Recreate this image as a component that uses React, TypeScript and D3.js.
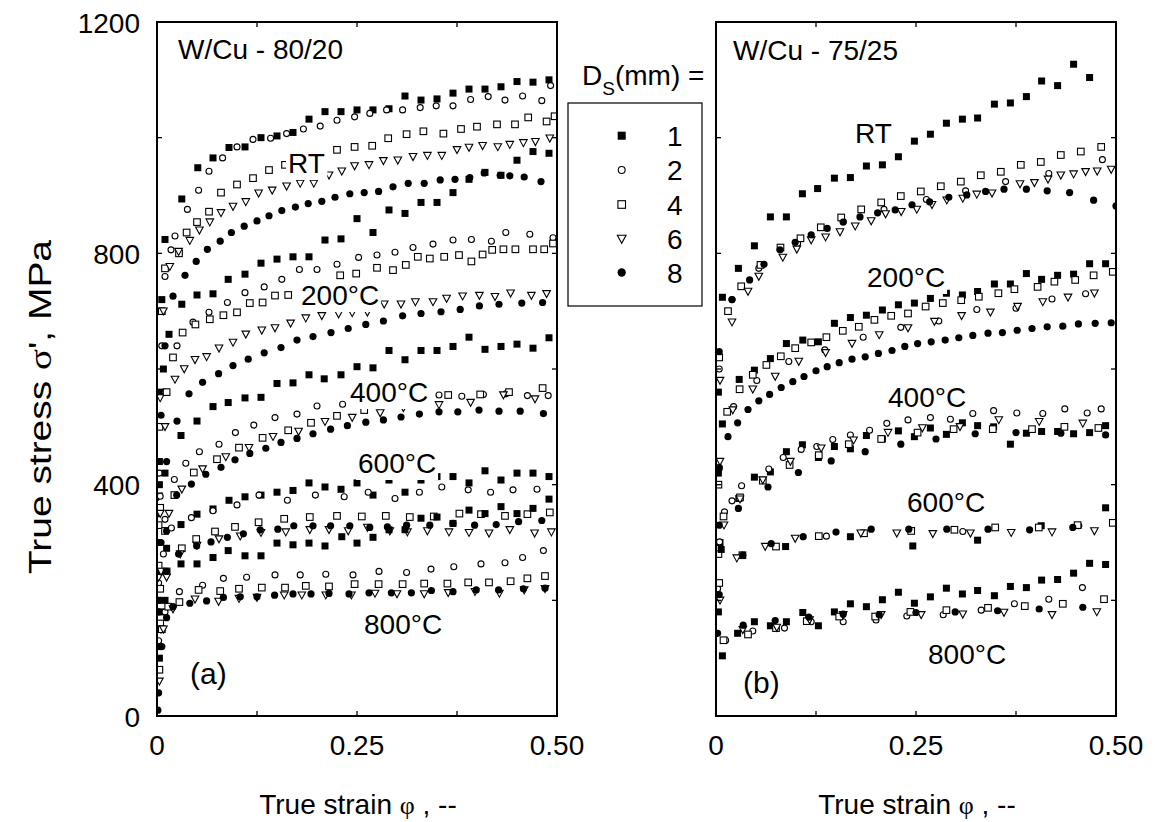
import React from 'react';
import * as d3 from 'd3';

type Pt = [number, number];

// ---------- Panel (a) W/Cu 80/20 ----------
const A_RT_1: Pt[] = [[0.001,120],[0.002,300],[0.003,440],[0.004,560],[0.006,720],[0.01,824],[0.031,894],[0.051,948],[0.07,965],[0.09,983],[0.11,984],[0.13,1000],[0.15,1003],[0.17,1009],[0.19,1032],[0.21,1045],[0.23,1045],[0.25,1048],[0.27,1048],[0.29,1050],[0.31,1072],[0.33,1065],[0.35,1067],[0.37,1077],[0.39,1084],[0.41,1084],[0.43,1088],[0.45,1097],[0.47,1096],[0.49,1100]];
const A_RT_2: Pt[] = [[0.002,250],[0.003,420],[0.006,640],[0.01,760],[0.0175,806],[0.0225,830],[0.038,876],[0.052,909],[0.065,942],[0.082,965],[0.1,984],[0.12,997],[0.142,999],[0.162,1007],[0.183,1015],[0.204,1020],[0.225,1030],[0.247,1036],[0.266,1042],[0.287,1048],[0.307,1048],[0.329,1052],[0.349,1055],[0.37,1055],[0.392,1066],[0.414,1071],[0.435,1065],[0.457,1072],[0.481,1064],[0.492,1090]];
const A_RT_4: Pt[] = [[0.002,330],[0.003,500],[0.006,700],[0.01,774],[0.0275,800],[0.037,836],[0.05,854],[0.065,872],[0.08,905],[0.1,919],[0.12,930],[0.14,944],[0.16,953],[0.225,979],[0.247,984],[0.269,986],[0.289,999],[0.312,1006],[0.333,1011],[0.358,1007],[0.38,1015],[0.4,1019],[0.425,1023],[0.4475,1023],[0.464,1035],[0.487,1028],[0.497,1037]];
const A_RT_6: Pt[] = [[0.002,380],[0.004,550],[0.008,700],[0.016,777],[0.027,803],[0.041,822],[0.053,840],[0.066,854],[0.08,870],[0.095,881],[0.111,889],[0.127,904],[0.144,909],[0.162,916],[0.179,921],[0.196,921],[0.215,935],[0.231,942],[0.247,951],[0.265,953],[0.283,960],[0.301,961],[0.32,967],[0.338,969],[0.356,969],[0.375,979],[0.39,983],[0.407,986],[0.426,984],[0.441,988],[0.458,991],[0.473,993],[0.491,999]];
const A_RT_8: Pt[] = [[0.002,350],[0.005,520],[0.01,640],[0.02,726],[0.035,762],[0.049,786],[0.063,807],[0.079,821],[0.093,836],[0.109,847],[0.125,856],[0.14,865],[0.156,874],[0.173,880],[0.189,886],[0.206,890],[0.2225,897],[0.241,903],[0.259,905],[0.277,907],[0.295,915],[0.314,921],[0.334,921],[0.354,927],[0.3725,928],[0.391,931],[0.409,939],[0.429,935],[0.441,934],[0.459,932],[0.48,924]];

const A_200_1: Pt[] = [[0.001,200],[0.003,400],[0.008,600],[0.015,660],[0.031,712],[0.05,728],[0.07,730],[0.089,755],[0.11,764],[0.13,783],[0.15,790],[0.17,794],[0.19,794],[0.21,823],[0.23,825],[0.25,860],[0.27,836],[0.29,875],[0.31,869],[0.33,888],[0.35,888],[0.37,905],[0.39,928],[0.41,940],[0.43,935],[0.45,961],[0.47,976],[0.49,973]];
const A_200_2: Pt[] = [[0.002,230],[0.004,380],[0.01,560],[0.025,640],[0.045,681],[0.065,698],[0.088,715],[0.11,732],[0.134,742],[0.156,755],[0.178,772],[0.2,772],[0.225,781],[0.252,793],[0.275,797],[0.2975,802],[0.32,810],[0.345,816],[0.37,823],[0.393,824],[0.418,821],[0.436,836],[0.466,833],[0.495,827]];
const A_200_4: Pt[] = [[0.002,260],[0.004,360],[0.012,560],[0.02,620],[0.032,663],[0.048,677],[0.066,686],[0.083,693],[0.1,698],[0.116,714],[0.132,715],[0.1475,727],[0.164,728],[0.229,762],[0.249,765],[0.275,775],[0.295,771],[0.311,780],[0.326,794],[0.341,791],[0.359,794],[0.3775,797],[0.393,786],[0.407,798],[0.419,806],[0.433,807],[0.448,807],[0.47,807],[0.484,807],[0.495,817]];
const A_200_6: Pt[] = [[0.002,240],[0.004,350],[0.01,500],[0.0225,582],[0.034,600],[0.0475,616],[0.062,621],[0.0775,636],[0.095,646],[0.111,660],[0.131,667],[0.1475,671],[0.167,679],[0.186,688],[0.206,692],[0.227,695],[0.244,697],[0.263,698],[0.284,712],[0.305,712],[0.323,716],[0.345,716],[0.362,722],[0.382,726],[0.403,727],[0.4225,725],[0.442,731],[0.468,727],[0.487,730]];
const A_200_8: Pt[] = [[0.002,180],[0.005,300],[0.012,440],[0.025,510],[0.04,557],[0.057,577],[0.077,592],[0.095,606],[0.114,617],[0.134,628],[0.155,637],[0.175,650],[0.195,656],[0.2175,663],[0.239,670],[0.261,677],[0.283,683],[0.307,692],[0.33,696],[0.355,699],[0.379,703],[0.403,709],[0.4275,712],[0.456,714],[0.482,715]];

const A_400_1: Pt[] = [[0.002,150],[0.004,250],[0.01,420],[0.03,485],[0.05,510],[0.07,535],[0.089,542],[0.11,550],[0.13,551],[0.15,575],[0.17,576],[0.19,590],[0.209,583],[0.23,590],[0.25,604],[0.27,602],[0.29,632],[0.31,616],[0.33,632],[0.35,632],[0.37,639],[0.39,655],[0.41,634],[0.43,639],[0.45,643],[0.47,636],[0.49,654]];
const A_400_2: Pt[] = [[0.002,130],[0.004,220],[0.01,340],[0.0217,409],[0.036,437],[0.053,457],[0.0775,470],[0.098,490],[0.121,503],[0.1475,516],[0.175,522],[0.2,536],[0.232,539],[0.3525,555],[0.381,553],[0.408,556],[0.436,557],[0.463,554],[0.489,554]];
const A_400_4: Pt[] = [[0.004,220],[0.01,320],[0.0217,382],[0.046,421],[0.075,444],[0.1025,464],[0.132,481],[0.164,494],[0.1925,507],[0.225,519],[0.259,529],[0.364,555],[0.404,556],[0.44,560],[0.482,567]];
const A_400_6: Pt[] = [[0.005,250],[0.015,350],[0.031,392],[0.057,427],[0.086,448],[0.115,464],[0.145,483],[0.177,492],[0.21,509],[0.244,516],[0.279,524],[0.308,533],[0.3525,538],[0.392,542],[0.433,555],[0.4725,548]];
const A_400_8: Pt[] = [[0.004,200],[0.012,320],[0.0246,382],[0.043,401],[0.061,418],[0.08,430],[0.0975,443],[0.116,454],[0.136,463],[0.155,473],[0.175,480],[0.195,488],[0.217,496],[0.238,502],[0.261,508],[0.283,512],[0.305,517],[0.328,522],[0.3525,526],[0.376,526],[0.4025,529],[0.4275,527],[0.454,527],[0.483,523]];

const A_600_1: Pt[] = [[0.004,180],[0.012,290],[0.03,331],[0.05,349],[0.07,358],[0.09,373],[0.11,379],[0.13,382],[0.15,387],[0.17,390],[0.19,403],[0.21,396],[0.23,392],[0.25,403],[0.27,382],[0.29,408],[0.31,387],[0.33,408],[0.35,414],[0.37,414],[0.39,403],[0.41,424],[0.43,408],[0.45,420],[0.47,420],[0.49,414]];
const A_600_2: Pt[] = [[0.004,160],[0.008,280],[0.018,325],[0.043,343],[0.07,355],[0.1,365],[0.1275,382],[0.163,373],[0.198,382],[0.234,379],[0.264,387],[0.2975,376],[0.328,387],[0.356,396],[0.389,391],[0.417,387],[0.445,391],[0.475,392]];
const A_600_4: Pt[] = [[0.004,160],[0.012,250],[0.031,290],[0.049,306],[0.0725,319],[0.0975,327],[0.127,335],[0.159,341],[0.191,344],[0.225,346],[0.256,345],[0.286,346],[0.316,344],[0.346,345],[0.378,350],[0.405,349],[0.435,346],[0.463,349],[0.491,352]];
const A_600_6: Pt[] = [[0.005,150],[0.012,240],[0.029,280],[0.05,295],[0.0775,306],[0.104,311],[0.13,317],[0.161,318],[0.191,322],[0.215,322],[0.239,320],[0.263,326],[0.291,320],[0.313,318],[0.338,320],[0.365,318],[0.39,317],[0.415,316],[0.441,322],[0.472,316],[0.493,318]];
const A_600_8: Pt[] = [[0.004,150],[0.012,250],[0.027,280],[0.0496,294],[0.0675,301],[0.088,309],[0.108,315],[0.129,322],[0.151,323],[0.171,329],[0.195,329],[0.217,329],[0.241,329],[0.266,326],[0.288,327],[0.312,330],[0.341,330],[0.37,333],[0.397,330],[0.424,331],[0.452,336],[0.481,338]];

const A_800_1: Pt[] = [[0.003,100],[0.01,200],[0.03,263],[0.05,263],[0.07,274],[0.089,286],[0.11,277],[0.13,277],[0.15,299],[0.17,296],[0.19,299],[0.21,294],[0.231,310],[0.25,299],[0.27,309],[0.29,322],[0.31,322],[0.33,342],[0.35,344],[0.37,333],[0.39,356],[0.41,350],[0.43,362],[0.45,350],[0.47,359],[0.49,375]];
const A_800_2: Pt[] = [[0.003,80],[0.01,180],[0.028,215],[0.057,226],[0.083,238],[0.112,240],[0.1475,244],[0.179,244],[0.211,245],[0.245,244],[0.2775,250],[0.312,248],[0.3425,254],[0.371,258],[0.405,263],[0.435,265],[0.457,274],[0.483,286]];
const A_800_4: Pt[] = [[0.003,80],[0.006,150],[0.014,189],[0.028,197],[0.052,218],[0.079,216],[0.1025,220],[0.131,222],[0.16,222],[0.186,225],[0.215,224],[0.247,228],[0.277,228],[0.307,228],[0.334,229],[0.363,229],[0.389,231],[0.415,231],[0.442,233],[0.463,238],[0.485,242]];
const A_800_6: Pt[] = [[0.003,60],[0.008,150],[0.02,185],[0.0475,202],[0.077,198],[0.1025,203],[0.125,205],[0.159,209],[0.181,209],[0.211,209],[0.243,209],[0.2725,212],[0.3,211],[0.334,211],[0.364,213],[0.3975,215],[0.428,212],[0.459,218],[0.485,220]];
const A_800_8: Pt[] = [[0.001,10],[0.002,40],[0.006,120],[0.012,170],[0.02,189],[0.041,195],[0.062,199],[0.083,205],[0.104,206],[0.125,206],[0.147,209],[0.17,211],[0.1925,211],[0.215,212],[0.24,211],[0.265,213],[0.293,213],[0.318,213],[0.343,217],[0.37,215],[0.399,218],[0.427,218],[0.458,220],[0.485,221]];

// ---------- Panel (b) W/Cu 75/25 ----------
const B_RT_1: Pt[] = [[0.003,560],[0.008,724],[0.028,774],[0.048,813],[0.068,863],[0.088,863],[0.108,903],[0.127,912],[0.148,930],[0.168,931],[0.188,951],[0.208,953],[0.228,967],[0.248,994],[0.268,1006],[0.288,1025],[0.308,1032],[0.327,1034],[0.348,1058],[0.368,1060],[0.388,1071],[0.407,1098],[0.427,1090],[0.447,1127],[0.467,1104]];
const B_RT_2: Pt[] = [[0.004,600],[0.02,720],[0.0535,774],[0.102,817],[0.159,855],[0.21,876],[0.263,893],[0.312,908],[0.362,924],[0.416,938],[0.483,962]];
const B_RT_4: Pt[] = [[0.004,620],[0.015,700],[0.0315,743],[0.0556,780],[0.0806,810],[0.1056,826],[0.131,845],[0.1565,862],[0.1815,876],[0.2065,888],[0.231,899],[0.256,907],[0.281,916],[0.306,924],[0.331,935],[0.356,941],[0.381,953],[0.406,958],[0.431,970],[0.456,976],[0.4815,984]];
const B_RT_6: Pt[] = [[0.005,580],[0.02,681],[0.04,734],[0.0535,760],[0.0835,793],[0.101,807],[0.119,823],[0.137,828],[0.155,837],[0.174,847],[0.194,856],[0.212,868],[0.2315,872],[0.251,876],[0.27,884],[0.2885,892],[0.3085,895],[0.326,902],[0.345,904],[0.38,920],[0.398,922],[0.415,928],[0.431,935],[0.447,937],[0.462,941],[0.4765,942],[0.494,945]];
const B_RT_8: Pt[] = [[0.004,630],[0.02,720],[0.042,754],[0.06,781],[0.08,806],[0.099,819],[0.119,832],[0.139,843],[0.159,854],[0.18,863],[0.202,870],[0.224,875],[0.245,884],[0.267,889],[0.291,897],[0.3135,901],[0.337,907],[0.36,911],[0.388,911],[0.414,908],[0.442,905],[0.472,892],[0.5,882]];

const B_200_1: Pt[] = [[0.003,420],[0.008,505],[0.029,582],[0.048,598],[0.068,618],[0.088,644],[0.1085,650],[0.128,647],[0.148,679],[0.168,689],[0.188,693],[0.208,702],[0.228,711],[0.248,714],[0.268,722],[0.288,731],[0.308,728],[0.327,734],[0.348,747],[0.368,747],[0.388,765],[0.407,755],[0.427,762],[0.447,764],[0.467,782],[0.487,782]];
const B_200_2: Pt[] = [[0.004,430],[0.022,535],[0.051,580],[0.091,613],[0.136,633],[0.184,655],[0.231,672],[0.2785,683],[0.326,703],[0.375,705],[0.42,721],[0.462,730]];
const B_200_4: Pt[] = [[0.003,400],[0.014,526],[0.0295,565],[0.046,590],[0.063,607],[0.081,622],[0.099,636],[0.119,646],[0.138,655],[0.1585,666],[0.1785,673],[0.198,685],[0.219,692],[0.24,696],[0.262,708],[0.2835,714],[0.3065,719],[0.3285,725],[0.353,731],[0.373,738],[0.402,742],[0.423,751],[0.449,754],[0.472,762],[0.496,768]];
const B_200_6: Pt[] = [[0.005,440],[0.021,529],[0.046,565],[0.074,587],[0.1035,613],[0.137,628],[0.17,644],[0.204,659],[0.24,671],[0.273,682],[0.307,692],[0.343,698],[0.377,708],[0.4085,716],[0.44,724],[0.473,731]];
const B_200_8: Pt[] = [[0.004,428],[0.015,483],[0.027,507],[0.04,530],[0.0535,545],[0.067,556],[0.0815,568],[0.096,578],[0.11,587],[0.125,597],[0.139,604],[0.154,611],[0.17,617],[0.1865,621],[0.203,627],[0.22,632],[0.236,639],[0.252,644],[0.269,647],[0.2865,650],[0.3035,654],[0.321,658],[0.34,662],[0.358,663],[0.3765,667],[0.395,670],[0.414,673],[0.4335,674],[0.453,678],[0.474,679],[0.494,680]];

const B_400_1: Pt[] = [[0.005,300],[0.0285,376],[0.048,413],[0.068,422],[0.088,457],[0.108,469],[0.128,447],[0.148,466],[0.168,462],[0.188,485],[0.208,479],[0.228,493],[0.248,483],[0.268,498],[0.288,487],[0.308,507],[0.327,502],[0.347,500],[0.368,470],[0.388,489],[0.407,492],[0.427,492],[0.447,488],[0.467,490],[0.487,502]];
const B_400_2: Pt[] = [[0.004,300],[0.0106,353],[0.02,372],[0.032,398],[0.066,427],[0.084,447],[0.1065,461],[0.126,466],[0.146,478],[0.168,486],[0.192,494],[0.2135,506],[0.24,512],[0.268,516],[0.293,513],[0.321,523],[0.347,528],[0.376,524],[0.4085,523],[0.436,531],[0.464,524],[0.4815,531]];
const B_400_4: Pt[] = [[0.003,280],[0.0094,345],[0.03,378],[0.0585,407],[0.092,434],[0.1285,451],[0.166,470],[0.2065,479],[0.252,490],[0.297,496],[0.346,496],[0.395,496],[0.4355,500],[0.478,498]];
const B_400_6: Pt[] = [[0.01,330],[0.03,375],[0.0585,408],[0.093,440],[0.1315,463],[0.172,477],[0.215,490],[0.258,498],[0.305,500],[0.3535,512],[0.404,509],[0.4585,506]];
const B_400_8: Pt[] = [[0.004,330],[0.028,359],[0.065,396],[0.103,421],[0.144,441],[0.1865,457],[0.231,470],[0.275,479],[0.324,488],[0.375,490],[0.431,489],[0.487,486]];

const B_600_1: Pt[] = [[0.003,180],[0.0065,288],[0.087,293],[0.168,310],[0.246,294],[0.327,304],[0.4065,329],[0.487,360]];
const B_600_2: Pt[] = [[0.002,220],[0.0044,301],[0.138,311],[0.3085,319],[0.4535,329]];
const B_600_4: Pt[] = [[0.004,230],[0.033,278],[0.075,293],[0.1285,311],[0.185,316],[0.244,320],[0.298,322],[0.349,326],[0.4035,326],[0.452,330],[0.496,334]];
const B_600_6: Pt[] = [[0.005,200],[0.026,273],[0.0615,293],[0.099,307],[0.181,316],[0.226,316],[0.271,315],[0.318,316],[0.369,317],[0.42,318],[0.473,320]];
const B_600_8: Pt[] = [[0.004,210],[0.0335,278],[0.069,298],[0.109,310],[0.15,318],[0.194,323],[0.241,323],[0.2885,323],[0.34,323],[0.392,322],[0.446,326]];

const B_800_1: Pt[] = [[0.008,104],[0.027,143],[0.048,163],[0.068,156],[0.088,163],[0.1085,179],[0.128,156],[0.148,180],[0.168,194],[0.188,189],[0.208,201],[0.228,214],[0.248,195],[0.268,206],[0.288,221],[0.308,211],[0.327,217],[0.348,208],[0.368,224],[0.388,222],[0.407,235],[0.427,236],[0.447,247],[0.467,264],[0.487,262]];
const B_800_2: Pt[] = [[0.012,131],[0.046,147],[0.0856,152],[0.119,163],[0.159,163],[0.2,166],[0.2385,173],[0.284,175],[0.3315,183],[0.373,194],[0.416,202],[0.458,222]];
const B_800_4: Pt[] = [[0.0094,131],[0.04,141],[0.075,152],[0.1135,164],[0.154,172],[0.199,172],[0.243,180],[0.288,183],[0.34,187],[0.386,190],[0.4335,194],[0.485,202]];
const B_800_6: Pt[] = [[0.0335,149],[0.076,153],[0.117,166],[0.159,175],[0.2065,175],[0.2565,175],[0.3085,176],[0.36,179],[0.42,175],[0.476,180]];
const B_800_8: Pt[] = [[0.002,143],[0.034,157],[0.074,165],[0.116,171],[0.159,176],[0.204,175],[0.25,179],[0.299,180],[0.352,182],[0.404,185],[0.4585,188]];

// ---------- categories / ticks ----------
const SIZES = ['1', '2', '4', '6', '8'];
const TEMPS = ['RT', '200°C', '400°C', '600°C', '800°C'];
const X_TICKS = [0, 0.125, 0.25, 0.375, 0.5];
const X_LABELS: [number, string][] = [[0, '0'], [0.25, '0.25'], [0.5, '0.50']];
const Y_TICKS = [0, 200, 400, 600, 800, 1000, 1200];
const Y_LABELS = [0, 400, 800, 1200];

const PANEL_A = [
  [A_RT_1, A_RT_2, A_RT_4, A_RT_6, A_RT_8],
  [A_200_1, A_200_2, A_200_4, A_200_6, A_200_8],
  [A_400_1, A_400_2, A_400_4, A_400_6, A_400_8],
  [A_600_1, A_600_2, A_600_4, A_600_6, A_600_8],
  [A_800_1, A_800_2, A_800_4, A_800_6, A_800_8],
];
const PANEL_B = [
  [B_RT_1, B_RT_2, B_RT_4, B_RT_6, B_RT_8],
  [B_200_1, B_200_2, B_200_4, B_200_6, B_200_8],
  [B_400_1, B_400_2, B_400_4, B_400_6, B_400_8],
  [B_600_1, B_600_2, B_600_4, B_600_6, B_600_8],
  [B_800_1, B_800_2, B_800_4, B_800_6, B_800_8],
];

const FONT = '"Liberation Sans", Arial, Helvetica, sans-serif';
const SERIF = '"Liberation Serif", "DejaVu Serif", serif';
const TOP = 22, BOTTOM = 716, PW = 400;

const KINDS = ['fsq', 'oc', 'osq', 'otri', 'fc'];

function Marker({ kind, x, y, s = 1 }: { kind: string; x: number; y: number; s?: number }) {
  const sw = 1.1;
  if (kind === 'fsq') return <rect x={x - 3.5 * s} y={y - 3.5 * s} width={7 * s} height={7 * s} fill="#000" />;
  if (kind === 'oc') return <circle cx={x} cy={y} r={3 * s} fill="#fff" stroke="#000" strokeWidth={sw} />;
  if (kind === 'osq') return <rect x={x - 3.3 * s} y={y - 3.3 * s} width={6.6 * s} height={6.6 * s} fill="#fff" stroke="#000" strokeWidth={sw} />;
  if (kind === 'otri') return <path d={`M${x - 3.8 * s},${y - 3.2 * s}L${x + 3.8 * s},${y - 3.2 * s}L${x},${y + 3.8 * s}Z`} fill="#fff" stroke="#000" strokeWidth={sw} />;
  return <circle cx={x} cy={y} r={3.6 * s} fill="#000" />;
}

type Lbl = { t: string; x: number; y: number };

function Panel({ id, left, data, title, titlePos, tag, tagPos, labels, showY }: {
  id: string; left: number; data: Pt[][][]; title: string; titlePos: [number, number];
  tag: string; tagPos: [number, number]; labels: Lbl[]; showY: boolean;
}) {
  const x = d3.scaleLinear().domain([0, 0.5]).range([left, left + PW]);
  const y = d3.scaleLinear().domain([0, 1200]).range([BOTTOM, TOP]);
  const tl = 5;
  const approxW = (t: string) => {
    let w = 0;
    for (const c of t) w += c === 'R' ? 0.722 : c === 'T' ? 0.611 : c === 'C' ? 0.722 : c === '°' ? 0.4 : 0.556;
    return w * 28;
  };
  return (
    <g>
      <defs>
        <clipPath id={`clip-${id}`}>
          <rect x={left} y={TOP} width={PW} height={BOTTOM - TOP} />
        </clipPath>
      </defs>
      <g clipPath={`url(#clip-${id})`}>
        {data.map((group, gi) =>
          group.map((series, si) =>
            series.map((p, pi) => (
              <Marker key={`${gi}-${si}-${pi}`} kind={KINDS[si]} x={x(p[0])} y={y(p[1])} />
            ))
          )
        )}
      </g>
      {labels.map((l) => (
        <g key={l.t}>
          <rect x={l.x - 2} y={l.y - 22} width={approxW(l.t) + 4} height={29} fill="#fff" />
          <text x={l.x} y={l.y} fontSize={28} fontFamily={FONT}>{l.t}</text>
        </g>
      ))}
      <text x={titlePos[0]} y={titlePos[1]} fontSize={28} fontFamily={FONT}>{title}</text>
      <text x={tagPos[0]} y={tagPos[1]} fontSize={30} fontFamily={FONT}>{tag}</text>
      <rect x={left} y={TOP} width={PW} height={BOTTOM - TOP} fill="none" stroke="#000" strokeWidth={2} />
      {X_TICKS.map((t) => (
        <g key={`xt${t}`}>
          <line x1={x(t)} x2={x(t)} y1={BOTTOM} y2={BOTTOM - tl} stroke="#000" strokeWidth={1.3} />
          <line x1={x(t)} x2={x(t)} y1={TOP} y2={TOP + tl} stroke="#000" strokeWidth={1.3} />
        </g>
      ))}
      {Y_TICKS.map((t) => (
        <g key={`yt${t}`}>
          <line x1={left} x2={left + tl} y1={y(t)} y2={y(t)} stroke="#000" strokeWidth={1.3} />
          <line x1={left + PW} x2={left + PW - tl} y1={y(t)} y2={y(t)} stroke="#000" strokeWidth={1.3} />
        </g>
      ))}
      {X_LABELS.map(([v, s]) => (
        <text key={`xl${v}`} x={x(v)} y={755} fontSize={28} fontFamily={FONT} textAnchor="middle">{s}</text>
      ))}
      {showY && Y_LABELS.map((v) => (
        <text key={`yl${v}`} x={left - 17} y={y(v) + 10.5} fontSize={28} fontFamily={FONT} textAnchor="end">{v}</text>
      ))}
      <text x={left + PW / 2 + 1} y={814} fontSize={28} fontFamily={FONT} textAnchor="middle">
        True strain <tspan fontFamily={SERIF} fontSize={26}>φ</tspan> , --
      </text>
    </g>
  );
}

const LABELS_A: Lbl[] = [
  { t: TEMPS[0], x: 288, y: 173 },
  { t: TEMPS[1], x: 301, y: 305 },
  { t: TEMPS[2], x: 350, y: 402 },
  { t: TEMPS[3], x: 358, y: 473 },
  { t: TEMPS[4], x: 364, y: 634 },
];
const LABELS_B: Lbl[] = [
  { t: TEMPS[0], x: 855, y: 143 },
  { t: TEMPS[1], x: 867, y: 287 },
  { t: TEMPS[2], x: 888, y: 407 },
  { t: TEMPS[3], x: 907, y: 512 },
  { t: TEMPS[4], x: 928, y: 664 },
];

export default function App() {
  const legendRows = [135.7, 170, 204.5, 239, 272.5];
  return (
    <svg width={1155} height={822} style={{ position: 'absolute', left: 0, top: 0, background: '#fff' }}>
      <rect width={1155} height={822} fill="#fff" />
      <Panel id="a" left={157} data={PANEL_A} title="W/Cu - 80/20" titlePos={[178, 59]} tag="(a)" tagPos={[190, 684]} labels={LABELS_A} showY={true} />
      <Panel id="b" left={716} data={PANEL_B} title="W/Cu - 75/25" titlePos={[733, 60]} tag="(b)" tagPos={[743, 693]} labels={LABELS_B} showY={false} />
      <text transform="translate(51,407) rotate(-90)" fontSize={32} fontFamily={FONT} textAnchor="middle" textLength={334} lengthAdjust="spacingAndGlyphs">
        True stress <tspan fontFamily={SERIF}>σ</tspan>', MPa
      </text>
      {/* legend */}
      <text x={582} y={85} fontSize={28} fontFamily={FONT}>
        D<tspan fontSize={19} dy={10}>S</tspan><tspan dy={-10}>(mm) =</tspan>
      </text>
      <rect x={568} y={103} width={134} height={203} fill="#fff" stroke="#000" strokeWidth={1.2} />
      {SIZES.map((s, i) => (
        <g key={s}>
          <Marker kind={KINDS[i]} x={621.7} y={legendRows[i]} s={1.15} />
          <text x={667} y={legendRows[i] + 10} fontSize={28} fontFamily={FONT}>{s}</text>
        </g>
      ))}
    </svg>
  );
}
